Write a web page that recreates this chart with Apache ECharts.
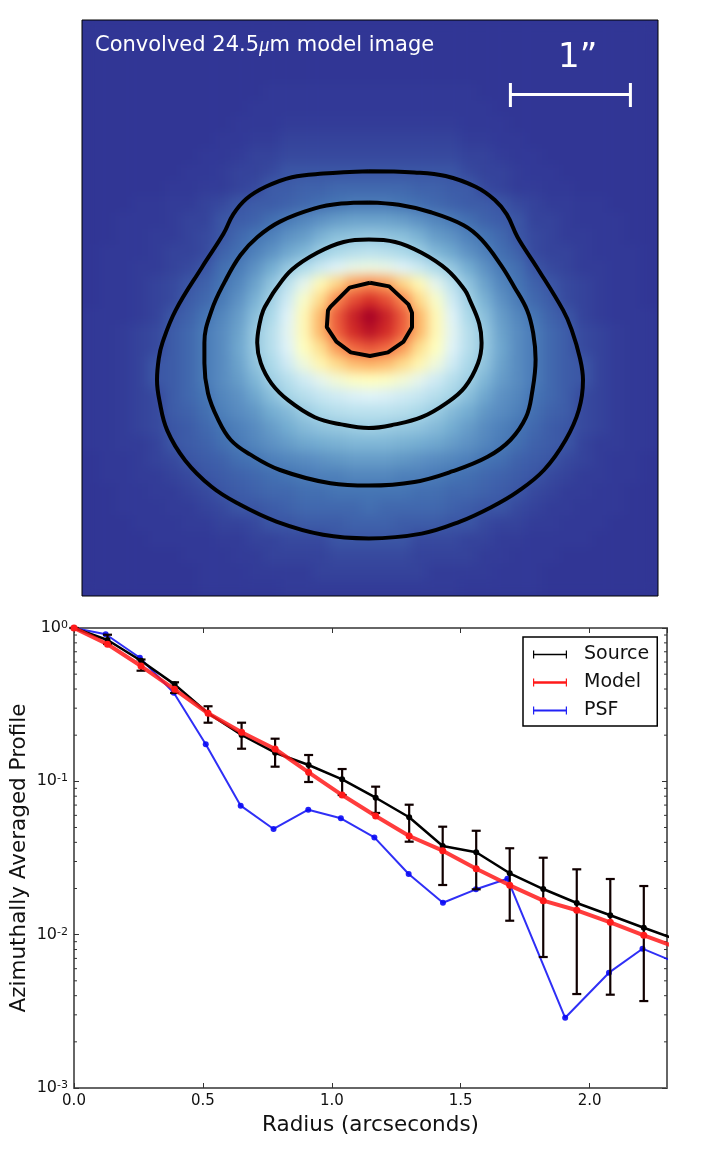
<!DOCTYPE html>
<html>
<head>
<meta charset="utf-8">
<script src="https://cdn.jsdelivr.net/npm/echarts@6/dist/echarts.min.js"></script>
<style>
html, body { margin: 0; padding: 0; background: #fff; }
#page { position: relative; width: 719px; height: 1154px; overflow: hidden; }
#imageBox { position: absolute; left: 82px; top: 20px; width: 576px; height: 576px; overflow: hidden; background: #313695; }
#image { width: 576px; height: 576px; filter: blur(6px); }
#main { position: absolute; left: 0; top: 0; width: 719px; height: 1154px; }
</style>
</head>
<body>
<div id="page">
  <div id="imageBox"><div id="image"></div></div>
  <div id="main"></div>
</div>
<script>
// model image on a coarse grid (top row first), 0-100 along the colour map
var imageRows = [
  [0,0,0,0,0,0,0,0,0,0,0,0,0,0,0,0,0,0,0,0,0,0,0,0,0,0,0,0,0,0,0,0,0,0,0],
  [0,0,0,0,0,0,0,0,0,0,0,0,0,0,0,0,0,0,0,0,0,0,0,0,0,0,0,0,0,0,0,0,0,0,0],
  [0,0,0,0,0,0,0,0,0,0,0,0,0,0,0,0,0,0,0,0,0,0,0,0,0,0,0,0,0,0,0,0,0,0,0],
  [0,0,0,0,0,0,0,0,0,0,0,0,0,0,0,0,0,0,0,0,0,0,0,0,0,0,0,0,0,0,0,0,0,0,0],
  [0,0,0,0,0,0,0,0,0,0,0,.5,.5,.5,.5,.5,.5,.5,.5,.5,.5,.5,.5,.5,0,0,0,0,0,0,0,0,0,0,0],
  [0,0,0,0,0,0,0,0,0,0,.5,.5,.5,.5,.5,.5,.5,.5,.5,.5,.5,.5,.5,.5,.5,0,0,0,0,0,0,0,0,0,0],
  [0,0,0,0,0,0,0,0,0,.5,.5,.5,1,1,1,1,1,1,1,1,1,1,1,.5,.5,.5,0,0,0,0,0,0,0,0,0],
  [0,0,0,0,0,0,0,0,.5,.5,1,1,2,2,2,2,2,2,2,2,2,2,2,1,1,.5,.5,0,0,0,0,0,0,0,0],
  [0,0,0,0,0,0,0,.5,.5,1,2,2,3,3,3,3,3,3,3,3,3,3,3,2,2,1,.5,.5,0,0,0,0,0,0,0],
  [0,0,0,0,0,0,.5,.5,1,2,2,3,5,5,5,5,5,5,5,5,5,5,5,3,2,2,1,.5,.5,0,0,0,0,0,0],
  [0,0,0,0,0,.5,.5,1,1,2,3,6,6,7,7,8,8,8,8,8,7,7,6,6,3,2,1,1,.5,.5,0,0,0,0,0],
  [0,0,0,.5,.5,1,1,2,3,5,6,6,7,8,9,10,11,11,11,10,9,8,7,6,6,5,3,2,1,1,.5,.5,0,0,0],
  [0,0,.5,.5,.5,1,2,2,5,6,7,9,11,13,15,17,18,18,18,17,15,13,11,9,7,6,5,2,2,1,.5,.5,.5,0,0],
  [0,0,.5,.5,1,1,2,3,5,8,10,12,15,17,21,24,25,26,25,24,21,17,15,12,10,8,5,3,2,1,1,.5,.5,0,0],
  [0,.5,.5,.5,1,2,2,3,7,9,12,15,19,22,27,30,32,33,32,30,27,22,19,15,12,9,7,3,2,2,1,.5,.5,.5,0],
  [0,.5,.5,1,1,2,3,5,9,11,15,20,26,31,36,40,43,44,43,40,36,31,26,20,15,11,9,5,3,2,1,1,.5,.5,0],
  [0,.5,.5,1,2,3,5,7,10,13,18,25,33,42,52,62,72,75,72,62,52,42,33,25,18,13,10,7,5,3,2,1,.5,.5,0],
  [0,.5,.5,1,2,3,6,8,11,15,21,28,37,48,61,76,85,90,85,76,61,48,37,28,21,15,11,8,6,3,2,1,.5,.5,0],
  [.5,.5,.5,1,2,5,7,10,13,17,24,30,40,52,68,83,93,100,93,83,68,52,40,30,24,17,13,10,7,5,2,1,.5,.5,.5],
  [.5,.5,1,2,3,6,8,11,14,18,26,32,41,52,68,82,91,96,91,82,68,52,41,32,26,18,14,11,8,6,3,2,1,.5,.5],
  [.5,.5,1,2,3,6,8,11,14,19,26,32,40,50,60,73,81,84,81,73,60,50,40,32,26,19,14,11,8,6,3,2,1,.5,.5],
  [.5,.5,1,2,5,6,8,11,14,18,25,30,37,45,53,61,67,69,67,61,53,45,37,30,25,18,14,11,8,6,5,2,1,.5,.5],
  [.5,.5,1,2,5,6,8,11,14,17,22,28,32,37,42,46,49,50,49,46,42,37,32,28,22,17,14,11,8,6,5,2,1,.5,.5],
  [.5,.5,1,2,3,6,8,10,13,15,19,24,29,32,35,37,39,40,39,37,35,32,29,24,19,15,13,10,8,6,3,2,1,.5,.5],
  [.5,.5,1,2,3,6,7,9,12,14,16,20,23,27,30,32,33,33,33,32,30,27,23,20,16,14,12,9,7,6,3,2,1,.5,.5],
  [.5,.5,1,2,3,5,6,8,10,12,14,17,20,23,25,26,27,28,27,26,25,23,20,17,14,12,10,8,6,5,3,2,1,.5,.5],
  [.5,.5,1,1,2,5,6,7,9,11,13,15,17,19,20,21,22,22,22,21,20,19,17,15,13,11,9,7,6,5,2,1,1,.5,.5],
  [0,.5,.5,1,2,3,5,6,7,9,10,12,13,14,15,16,17,17,17,16,15,14,13,12,10,9,7,6,5,3,2,1,.5,.5,0],
  [0,.5,.5,1,1,2,3,5,6,7,8,9,10,11,12,12,13,13,13,12,12,11,10,9,8,7,6,5,3,2,1,1,.5,.5,0],
  [0,0,.5,.5,1,1,2,3,5,6,7,8,8,9,9,10,10,10,10,10,9,9,8,8,7,6,5,3,2,1,1,.5,.5,0,0],
  [0,0,.5,.5,.5,1,1,2,3,5,5,6,7,8,8,8,8,9,8,8,8,8,7,6,5,5,3,2,1,1,.5,.5,.5,0,0],
  [0,0,0,.5,.5,.5,1,1,2,2,3,5,5,6,6,6,7,7,7,6,6,6,5,5,3,2,2,1,1,.5,.5,.5,0,0,0],
  [0,0,0,0,.5,.5,.5,.5,1,1,2,2,3,3,3,5,5,5,5,5,3,3,3,2,2,1,1,.5,.5,.5,.5,0,0,0,0],
  [0,0,0,0,0,0,.5,.5,.5,1,1,2,2,2,2,3,3,3,3,3,2,2,2,2,1,1,.5,.5,.5,0,0,0,0,0,0],
  [0,0,0,0,0,0,0,.5,.5,.5,1,1,1,1,2,2,2,2,2,2,2,1,1,1,1,.5,.5,.5,0,0,0,0,0,0,0],
  [0,0,0,0,0,0,0,.5,.5,.5,.5,.5,1,1,1,1,1,1,1,1,1,1,1,.5,.5,.5,.5,.5,0,0,0,0,0,0,0]
];
var imageColors = ['#313695','#4575b4','#74add1','#abd9e9','#e0f3f8','#ffffbf','#fee090','#fdae61','#f46d43','#d73027','#a50026'];

// contours in arcseconds from the lower left corner of the image
var contour1 = [[2.39,3.54],[2.77,3.53],[3.03,3.50],[3.28,3.41],[3.44,3.30],[3.54,3.18],[3.63,2.99],[3.79,2.74],[4.01,2.38],[4.08,2.22],[4.15,1.98],[4.175,1.80],[4.14,1.55],[4.03,1.30],[3.85,1.05],[3.63,0.87],[3.41,0.74],[3.15,0.62],[2.83,0.52],[2.39,0.48],[2.01,0.51],[1.62,0.62],[1.30,0.77],[1.08,0.91],[0.86,1.13],[0.71,1.38],[0.645,1.63],[0.625,1.80],[0.64,1.98],[0.67,2.11],[0.78,2.38],[1.00,2.74],[1.18,3.02],[1.26,3.18],[1.37,3.31],[1.53,3.41],[1.75,3.49],[2.01,3.52],[2.39,3.54]];
var contour2 = [[2.39,3.28],[2.64,3.26],[2.90,3.20],[3.18,3.09],[3.33,2.97],[3.49,2.76],[3.60,2.58],[3.71,2.38],[3.76,2.19],[3.78,1.97],[3.75,1.69],[3.70,1.49],[3.57,1.30],[3.38,1.16],[3.09,1.04],[2.77,0.95],[2.39,0.92],[2.07,0.94],[1.65,1.05],[1.40,1.18],[1.24,1.30],[1.13,1.48],[1.05,1.69],[1.02,1.94],[1.02,2.11],[1.08,2.38],[1.19,2.62],[1.32,2.84],[1.46,2.99],[1.65,3.12],[1.94,3.23],[2.16,3.27],[2.39,3.28]];
var contour3 = [[2.39,2.97],[2.61,2.95],[2.83,2.86],[3.04,2.72],[3.19,2.55],[3.23,2.47],[3.31,2.27],[3.33,2.11],[3.30,1.94],[3.19,1.74],[3.04,1.61],[2.83,1.49],[2.61,1.43],[2.39,1.40],[2.16,1.43],[1.94,1.49],[1.72,1.63],[1.58,1.77],[1.49,1.94],[1.46,2.11],[1.48,2.27],[1.51,2.38],[1.56,2.47],[1.61,2.55],[1.75,2.72],[1.96,2.86],[2.18,2.95],[2.39,2.97]];
var contour4 = [[2.40,2.61],[2.56,2.58],[2.72,2.43],[2.75,2.36],[2.75,2.24],[2.68,2.12],[2.55,2.03],[2.40,2.00],[2.24,2.03],[2.12,2.12],[2.04,2.24],[2.05,2.38],[2.07,2.41],[2.23,2.57],[2.40,2.61]];
var scaleBar = [[3.57,4.275],[3.57,4.075],null,[3.57,4.18],[4.57,4.18],null,[4.57,4.275],[4.57,4.075]];

// radial profiles
var radius = [0,0.13,0.26,0.39,0.52,0.65,0.78,0.91,1.04,1.17,1.30,1.43,1.56,1.69,1.82,1.95,2.08,2.21,2.34];
var source = [1,0.835,0.612,0.429,0.278,0.2005,0.1537,0.1278,0.1031,0.0782,0.0583,0.0379,0.0345,0.02513,0.01985,0.01609,0.01338,0.0111,0.00923];
var sourceHigh = [1,0.904,0.623,0.4425,0.3087,0.2412,0.1897,0.1485,0.1203,0.0923,0.0704,0.0506,0.0476,0.0366,0.03176,0.02668,0.02307,0.02076];
var sourceLow = [1,0.786,0.5266,0.3768,0.2412,0.1632,0.1246,0.099,0.0814,0.0622,0.0404,0.02108,0.01976,0.01233,0.00715,0.0041,0.00406,0.00369];
var model = [1,0.783,0.565,0.398,0.278,0.2088,0.1625,0.1145,0.0814,0.0594,0.044,0.0353,0.02693,0.02098,0.01666,0.01442,0.01204,0.0099,0.00823];
var psfRadius = [0,0.123,0.2555,0.387,0.511,0.6465,0.774,0.9086,1.035,1.165,1.298,1.431,1.559,1.681,1.905,2.075,2.205,2.34];
var psf = [1,0.91,0.64,0.378,0.1744,0.0694,0.0489,0.0653,0.0574,0.0431,0.02487,0.01616,0.01976,0.02317,0.00287,0.00565,0.0081,0.00653];
var minorTickValues = [0.002,0.003,0.004,0.005,0.006,0.007,0.008,0.009,0.02,0.03,0.04,0.05,0.06,0.07,0.08,0.09,0.2,0.3,0.4,0.5,0.6,0.7,0.8,0.9];

function zip(xs, ys) {
    return ys.map(function (y, i) { return [xs[i], y]; });
}

var imageData = [];
imageRows.forEach(function (row, r) {
    row.forEach(function (v, c) {
        imageData.push([c, imageRows.length - 1 - r, v]);
    });
});

echarts.init(document.getElementById('image')).setOption({
    animation: false,
    grid: { left: 0, right: 0, top: 0, bottom: 0 },
    xAxis: { type: 'category', show: false, data: imageRows[0].map(function (v, i) { return i; }) },
    yAxis: { type: 'category', show: false, data: imageRows.map(function (v, i) { return i; }) },
    visualMap: { show: false, min: 0, max: 100, inRange: { color: imageColors } },
    series: [{ type: 'heatmap', data: imageData, progressive: 0 }]
});

function contourSeries(data, smooth) {
    return {
        type: 'line', xAxisIndex: 0, yAxisIndex: 0, data: data, smooth: smooth,
        symbol: 'none', silent: true, lineStyle: { color: '#000', width: 4 }
    };
}

function errorBar(params, api) {
    var x = api.value(0);
    var hi = api.coord([x, api.value(1)]);
    var lo = api.coord([x, api.value(2)]);
    var style = { stroke: '#100000', lineWidth: 2.2 };
    return {
        type: 'group',
        children: [
            { type: 'line', shape: { x1: hi[0], y1: hi[1], x2: lo[0], y2: lo[1] }, style: style },
            { type: 'line', shape: { x1: hi[0] - 4.5, y1: hi[1], x2: hi[0] + 4.5, y2: hi[1] }, style: style },
            { type: 'line', shape: { x1: lo[0] - 4.5, y1: lo[1], x2: lo[0] + 4.5, y2: lo[1] }, style: style }
        ]
    };
}

function minorTicks(params, api) {
    var l = api.coord([0, api.value(0)]);
    var r = api.coord([2.3, api.value(0)]);
    var style = { stroke: '#333', lineWidth: 1 };
    return {
        type: 'group',
        children: [
            { type: 'line', shape: { x1: l[0], y1: l[1], x2: l[0] + 3, y2: l[1] }, style: style },
            { type: 'line', shape: { x1: r[0], y1: r[1], x2: r[0] - 3, y2: r[1] }, style: style }
        ]
    };
}

var axisFont = 'DejaVu Sans';
var frameLine = { color: '#666', width: 2 };

var option = {
    animation: false,
    textStyle: { fontFamily: axisFont },
    grid: [
        { left: 82, top: 20, width: 576, height: 576, show: true, borderColor: '#000', borderWidth: 1, outerBoundsMode: 'none' },
        { left: 74, top: 628, width: 593, height: 460, outerBoundsMode: 'none' }
    ],
    xAxis: [
        { type: 'value', gridIndex: 0, min: 0, max: 4.8, show: false },
        {
            type: 'value', gridIndex: 1, min: 0, max: 2.3, interval: 0.5,
            name: 'Radius (arcseconds)', nameLocation: 'middle', nameGap: 26, nameMoveOverlap: false,
            nameTextStyle: { fontSize: 21.5, color: '#111', fontFamily: axisFont },
            axisLine: { show: true, onZero: false, lineStyle: frameLine },
            axisTick: { show: true, inside: true, length: 5, lineStyle: { color: '#333' } },
            axisLabel: { fontSize: 15, color: '#111', margin: 6, showMaxLabel: false, formatter: function (v) { return v.toFixed(1); } },
            splitLine: { show: false }
        },
        {
            type: 'value', gridIndex: 1, min: 0, max: 2.3, interval: 0.5, position: 'top',
            axisLine: { show: true, onZero: false, lineStyle: frameLine },
            axisTick: { show: true, inside: true, length: 5, lineStyle: { color: '#333' } },
            axisLabel: { show: false }, splitLine: { show: false }
        }
    ],
    yAxis: [
        { type: 'value', gridIndex: 0, min: 0, max: 4.8, show: false },
        {
            type: 'log', gridIndex: 1, min: 0.001, max: 1, logBase: 10,
            name: 'Azimuthally Averaged Profile', nameLocation: 'middle', nameGap: 44, nameMoveOverlap: false,
            nameTextStyle: { fontSize: 21.5, color: '#111', fontFamily: axisFont },
            axisLine: { show: true, onZero: false, lineStyle: frameLine },
            axisTick: { show: true, inside: true, length: 5, lineStyle: { color: '#333' } },
            axisLabel: {
                margin: 6,
                formatter: function (v) { return '{b|10}{s|' + Math.round(Math.log10(v)) + '}'; },
                rich: {
                    b: { fontSize: 16, color: '#111', fontFamily: axisFont },
                    s: { fontSize: 11, color: '#111', fontFamily: axisFont, padding: [0, 0, 6, 0] }
                }
            },
            splitLine: { show: false }
        },
        {
            type: 'log', gridIndex: 1, min: 0.001, max: 1, logBase: 10, position: 'right',
            axisLine: { show: true, onZero: false, lineStyle: frameLine },
            axisTick: { show: true, inside: true, length: 5, lineStyle: { color: '#333' } },
            axisLabel: { show: false }, splitLine: { show: false }
        }
    ],
    legend: {
        left: 523, top: 637, orient: 'vertical',
        data: [
            { name: 'Source', icon: 'path://M0 3.3H34V4.7H0Z M0 0H1.2V8H0Z M32.8 0H34V8H32.8Z' },
            { name: 'Model', icon: 'path://M0 2.8H34V5.2H0Z M0 0H1.2V8H0Z M32.8 0H34V8H32.8Z' },
            { name: 'PSF', icon: 'path://M0 3H34V5H0Z M0 0H1.2V8H0Z M32.8 0H34V8H32.8Z' }
        ],
        itemWidth: 34, itemHeight: 8, itemGap: 9,
        padding: [8, 8, 6, 10],
        borderColor: '#000', borderWidth: 1.5, backgroundColor: '#fff',
        textStyle: { fontSize: 19, color: '#111', fontFamily: axisFont, padding: [0, 0, 0, 12] }
    },
    graphic: [
        {
            type: 'text', left: 95, top: 35, z: 20,
            style: {
                rich: {
                    t: { fontSize: 21, fill: '#fff', fontFamily: axisFont },
                    mu: { fontSize: 21, fill: '#fff', fontFamily: 'Liberation Serif', fontStyle: 'italic' }
                },
                text: '{t|Convolved 24.5}{mu|\u03bc}{t|m model image}'
            }
        },
        {
            type: 'text', left: 558, top: 41, z: 20,
            style: { text: '1\u201d', fontSize: 34, fill: '#fff', fontFamily: axisFont }
        }
    ],
    series: [
        contourSeries(contour1, 0.4),
        contourSeries(contour2, 0.4),
        contourSeries(contour3, 0.4),
        contourSeries(contour4, false),
        {
            type: 'line', xAxisIndex: 0, yAxisIndex: 0, data: scaleBar, symbol: 'none', silent: true,
            connectNulls: false, lineStyle: { color: '#fff', width: 3 }, z: 6
        },
        {
            type: 'custom', xAxisIndex: 1, yAxisIndex: 1, silent: true, data: minorTickValues.map(function (v) { return [v]; }),
            encode: { y: 0 }, renderItem: minorTicks, z: 1
        },
        {
            name: 'PSF', type: 'line', xAxisIndex: 1, yAxisIndex: 1, data: zip(psfRadius, psf), z: 2,
            color: '#0a0af5', symbol: 'circle', symbolSize: 6, showSymbol: true, showAllSymbol: true,
            lineStyle: { width: 2, opacity: 0.85 }, itemStyle: { opacity: 0.9 }
        },
        {
            name: 'Source', type: 'line', xAxisIndex: 1, yAxisIndex: 1, data: zip(radius, source), z: 3,
            color: '#000', symbol: 'circle', symbolSize: 6, showAllSymbol: true,
            lineStyle: { width: 2.5 }
        },
        {
            type: 'custom', xAxisIndex: 1, yAxisIndex: 1, silent: true, z: 3, renderItem: errorBar,
            data: sourceHigh.map(function (h, i) { return [radius[i], h, sourceLow[i]]; }),
            encode: { x: 0, y: [1, 2] }
        },
        {
            name: 'Model', type: 'line', xAxisIndex: 1, yAxisIndex: 1, data: zip(radius, model), z: 4,
            color: '#ff1a1a', symbol: 'circle', symbolSize: 7, showAllSymbol: true,
            lineStyle: { width: 4, opacity: 0.85 }
        }
    ]
};

echarts.init(document.getElementById('main')).setOption(option);
</script>
</body>
</html>
